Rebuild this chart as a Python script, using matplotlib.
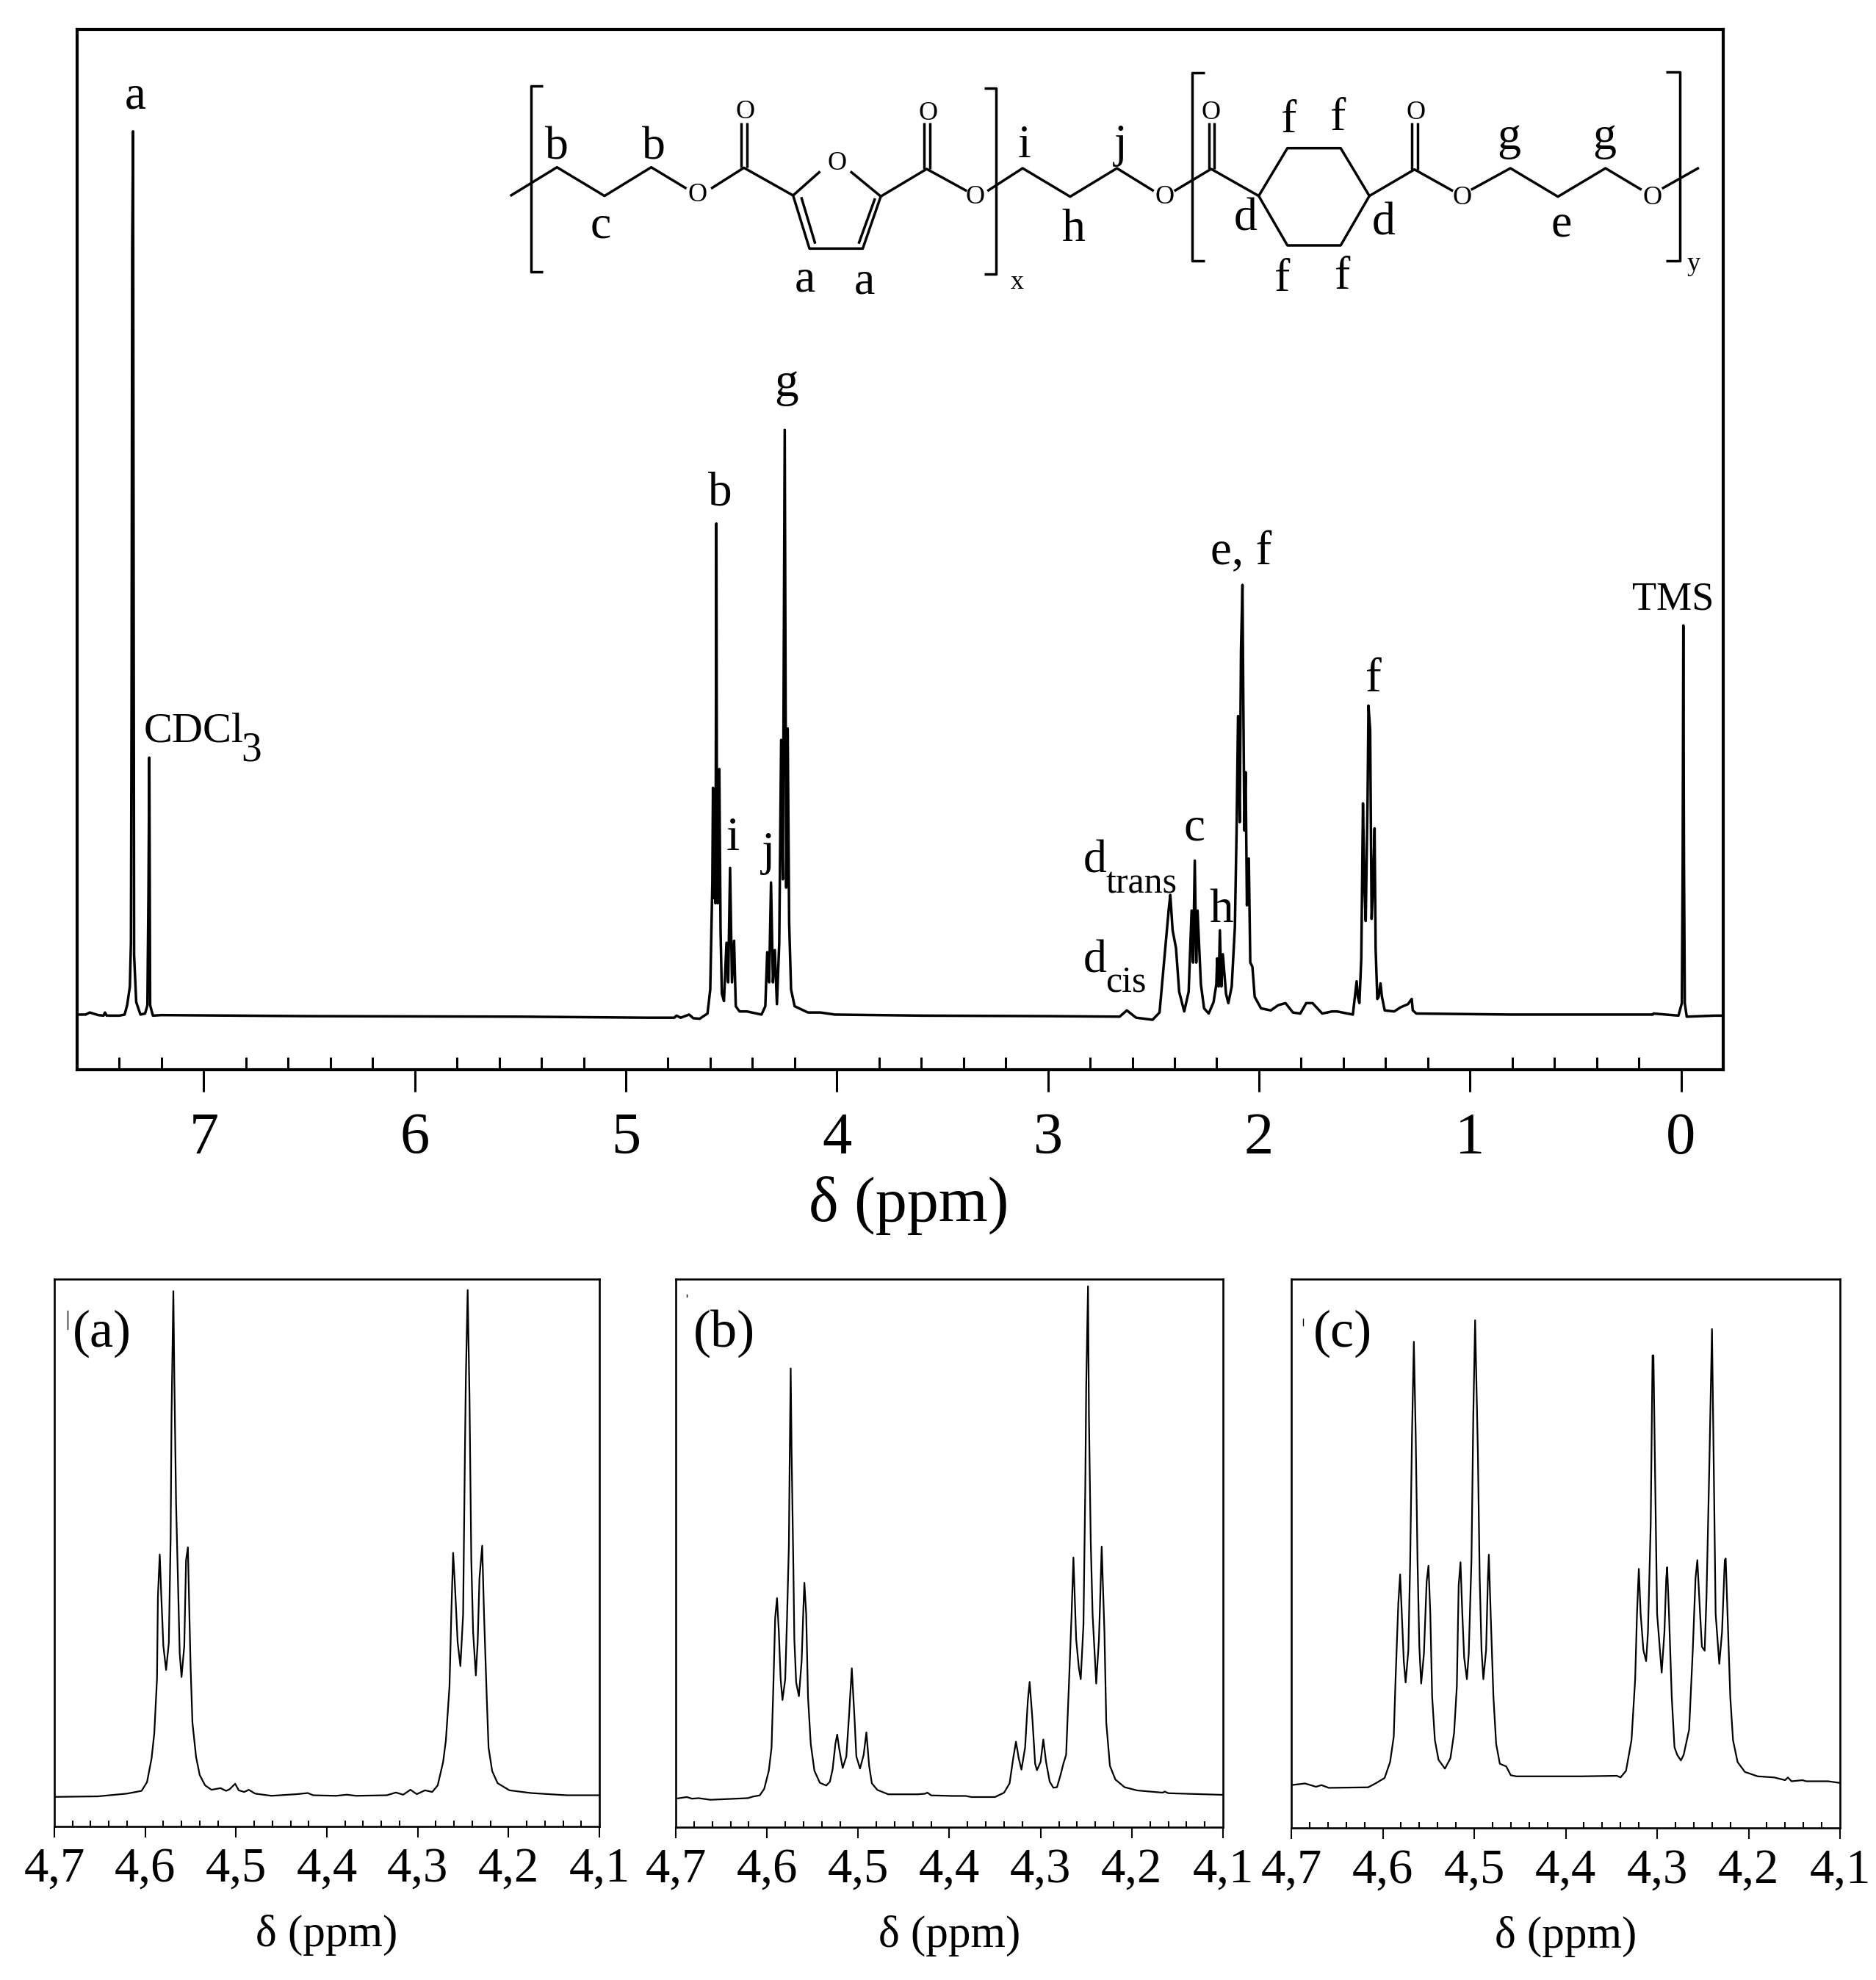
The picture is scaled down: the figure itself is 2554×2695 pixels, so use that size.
import numpy as np
import matplotlib
matplotlib.use("Agg")
from matplotlib import pyplot as plt
from matplotlib.ticker import FixedLocator, FixedFormatter

plt.rcParams['font.family'] = ['Liberation Serif', 'DejaVu Serif']

# main spectrum, intensity in percent of the axes height
main_ppm = [7.6, 7.56, 7.54, 7.5, 7.475, 7.468, 7.46, 7.40, 7.375, 7.363, 7.35, 7.345, 7.342, 7.339, 7.335, 7.332, 7.33, 7.32,
            7.30, 7.278, 7.267, 7.262, 7.258, 7.254, 7.241, 7.2, 6.5, 5.5, 4.9, 4.77, 4.76, 4.74, 4.70, 4.68, 4.65,
            4.613, 4.6, 4.594, 4.59, 4.587, 4.583, 4.579, 4.575, 4.571, 4.568, 4.564, 4.561, 4.557, 4.551, 4.545,
            4.535, 4.523, 4.515, 4.506, 4.497, 4.487, 4.479, 4.461, 4.426, 4.357, 4.339,
            4.33, 4.321, 4.312, 4.303, 4.294, 4.284, 4.273, 4.264, 4.256, 4.247, 4.24, 4.233, 4.226, 4.217, 4.2,
            4.137, 4.078, 4.009, 3.6, 3.0, 2.66, 2.626, 2.582, 2.504, 2.471, 2.447, 2.427, 2.42, 2.409, 2.393,
            2.378, 2.354, 2.333, 2.319, 2.312, 2.304, 2.297, 2.291, 2.275, 2.26, 2.238, 2.215, 2.202, 2.198,
            2.191, 2.185, 2.178, 2.171, 2.156, 2.145, 2.129, 2.114, 2.106, 2.099, 2.091, 2.085, 2.078, 2.074,
            2.069, 2.063, 2.057, 2.048, 2.041, 2.031, 2.02, 1.99, 1.944, 1.909, 1.874, 1.839, 1.804, 1.776,
            1.746, 1.7, 1.654, 1.63, 1.555, 1.537, 1.531, 1.524, 1.515, 1.507, 1.5, 1.494, 1.485, 1.481, 1.473,
            1.466, 1.459, 1.452, 1.447, 1.439, 1.433, 1.424, 1.417, 1.404, 1.359, 1.329, 1.294, 1.276, 1.271,
            1.254, 0.8, 0.394, 0.134, 0.13, 0.012, -0.004, -0.008, -0.011, -0.014, -0.018, -0.027, -0.159, -0.2]
main_int = [5.3, 5.3, 5.5, 5.25, 5.2, 5.5, 5.2, 5.2, 5.3, 6.2, 8.0, 12.2, 36, 79, 90.2, 43.7, 11, 6.5,
            5.3, 5.4, 6.2, 17, 30, 6.2, 5.2, 5.25, 5.15, 5.1, 5.0, 5.0, 5.2, 5.0, 5.3, 4.95, 4.9,
            5.4, 7.7, 13.7, 18, 27.1, 16.5, 20, 16, 52.5, 20, 16, 21, 28.9, 13.3, 7.3,
            6.6, 12.2, 8.4, 19.4, 8.4, 12.4, 6.1, 5.6, 5.6, 5.3, 6.1,
            11.3, 8.4, 18, 8.4, 11.5, 6.3, 12.2, 31.7, 18.3, 61.5, 17.5, 32.8, 14.1, 7.7, 6.1,
            5.5, 5.5, 5.3, 5.2, 5.15, 5.1, 5.7, 5.0, 4.8, 5.5, 11, 15.5, 16.8, 13.4, 11.7,
            7.5, 5.6, 7.5, 15.3, 10.3, 20.1, 10.3, 15.3, 8.2, 5.9, 5.4, 6.5, 8.2, 10.7,
            8, 13.4, 8, 11.1, 7.3, 6.4, 8, 13.7, 22.9, 34, 23.8, 40.3, 46.6, 35.4,
            23, 28.6, 15.8, 20.3, 10.3, 9.9, 7, 5.9, 5.7, 6.2, 6.4, 5.5, 5.4, 6.4,
            6.4, 5.4, 5.6, 5.6, 5.3, 8.5, 7.0, 6.4, 10.7, 25.6, 17.4, 14.3, 26.3, 35, 32.7,
            14.5, 17.7, 23.2, 11.6, 6.8, 7, 8.3, 7, 5.7, 5.6, 6, 6.3, 6.8, 5.7,
            5.4, 5.3, 5.3, 5.3, 5.4, 5.2, 6.4, 20, 42.7, 20, 6.4, 5.1, 5.2, 5.2]

# panel (a)
a_ppm = [4.700, 4.652, 4.62, 4.604, 4.598, 4.593, 4.590, 4.587, 4.586, 4.584, 4.582, 4.580, 4.577, 4.574, 4.572,
         4.571, 4.569, 4.568, 4.566, 4.564, 4.562, 4.560, 4.557, 4.555, 4.553, 4.552, 4.550, 4.548, 4.544, 4.540,
         4.534, 4.527, 4.517, 4.511, 4.507, 4.501, 4.497, 4.491, 4.486, 4.479, 4.461, 4.433, 4.421, 4.415, 4.390,
         4.378, 4.368, 4.334, 4.324, 4.316, 4.308, 4.301, 4.292, 4.284, 4.278, 4.272, 4.269, 4.265, 4.263, 4.261,
         4.259, 4.256, 4.253, 4.250, 4.248, 4.247, 4.245, 4.243, 4.241, 4.239, 4.236, 4.234, 4.232, 4.229, 4.227,
         4.224, 4.222, 4.218, 4.212, 4.199, 4.175, 4.136, 4.100]
a_int = [5.4, 5.5, 6.0, 6.5, 8.1, 12.4, 17, 27, 42, 49.7, 41, 33, 28.6, 33.5, 52.7,
         75, 97.8, 83, 59, 45.4, 31.6, 27.3, 32.9, 48.7, 51, 43.5, 29, 19, 12.7, 9.4,
         7.5, 6.7, 7.0, 6.5, 6.8, 7.8, 6.6, 6.3, 6.7, 6.0, 5.6, 5.9, 6.1, 5.7, 5.6,
         5.8, 5.6, 5.7, 6.2, 5.8, 6.7, 5.9, 6.6, 6.3, 7.5, 11.8, 15.7, 25.6, 38.8, 50,
         44, 33.6, 29.3, 38.8, 68.6, 81.8, 98, 78.5, 48.7, 35.5, 27.6, 33.6, 45.4, 51.3, 38.8,
         23.6, 14.4, 10.1, 7.9, 6.6, 6.1, 5.7, 5.7]

# panel (b)
b_ppm = [4.700, 4.688, 4.682, 4.675, 4.662, 4.621, 4.615, 4.608, 4.603, 4.598, 4.595, 4.593, 4.591, 4.589, 4.587,
         4.585, 4.583, 4.580, 4.578, 4.576, 4.575, 4.574, 4.573, 4.571, 4.570, 4.568, 4.565, 4.562, 4.560, 4.559,
         4.557, 4.555, 4.552, 4.548, 4.542, 4.535, 4.531, 4.528, 4.525, 4.523, 4.521, 4.517, 4.513, 4.510, 4.507,
         4.504, 4.502, 4.498, 4.494, 4.491, 4.488, 4.485, 4.479, 4.467, 4.435, 4.427, 4.424, 4.420, 4.396, 4.382,
         4.376, 4.350, 4.340, 4.334, 4.330, 4.327, 4.324, 4.321, 4.317, 4.314, 4.312, 4.309, 4.306, 4.304, 4.300,
         4.297, 4.294, 4.290, 4.286, 4.282, 4.278, 4.275, 4.272, 4.269, 4.266, 4.264, 4.261, 4.258, 4.256, 4.253,
         4.251, 4.250, 4.248, 4.247, 4.245, 4.243, 4.239, 4.236, 4.234, 4.233, 4.230, 4.228, 4.224, 4.218, 4.208,
         4.194, 4.166, 4.164, 4.160, 4.100]
b_int = [5.2, 5.5, 5.2, 5.3, 5.0, 5.3, 5.6, 5.8, 7.0, 10.3, 14.5, 25.7, 38.2, 41.8, 35.6,
         27, 23.2, 27, 38.2, 51.3, 68.4, 83.7, 68.4, 46.7, 34.3, 26.4, 23.9, 30.3, 40.2, 44.6,
         38.9, 23.7, 15.2, 10.3, 8.1, 7.6, 8.3, 10.6, 15.2, 16.9, 14.5, 10.8, 12.9, 20.4, 29,
         19.8, 12.9, 10.7, 13.2, 17.3, 11.2, 8, 6.8, 6.0, 6.0, 6.1, 6.3, 5.8, 5.7, 5.7,
         5.5, 5.5, 6.3, 8, 12.6, 15.6, 12.6, 10.5, 14.5, 23.1, 26.5, 19.8, 11.6, 10.4, 11.9,
         16, 11.9, 8.3, 7.2, 7.3, 9.6, 11.6, 13.2, 25.7, 38.9, 49.2, 34.3, 29, 27, 36.9,
         61.9, 80.3, 98.7, 75, 52, 38.9, 26.2, 34.3, 45.4, 51.2, 35.6, 19.1, 11.2, 8.7, 7.3,
         6.7, 6.3, 6.5, 6.2, 5.9]

# panel (c)
c_ppm = [4.700, 4.685, 4.673, 4.667, 4.659, 4.616, 4.608, 4.598, 4.592, 4.588, 4.586, 4.583, 4.581, 4.579, 4.577,
         4.575, 4.572, 4.570, 4.568, 4.566, 4.564, 4.562, 4.560, 4.558, 4.555, 4.552, 4.550, 4.548, 4.546, 4.543,
         4.539, 4.532, 4.526, 4.522, 4.519, 4.517, 4.515, 4.513, 4.511, 4.508, 4.506, 4.503, 4.501, 4.499, 4.496,
         4.494, 4.492, 4.490, 4.487, 4.485, 4.484, 4.482, 4.479, 4.476, 4.472, 4.465, 4.460, 4.454, 4.383, 4.344,
         4.340, 4.334, 4.328, 4.324, 4.322, 4.320, 4.318, 4.315, 4.312, 4.310, 4.307, 4.305, 4.304, 4.302, 4.300,
         4.295, 4.292, 4.290, 4.289, 4.287, 4.284, 4.281, 4.278, 4.274, 4.271, 4.265, 4.261, 4.258, 4.256, 4.253,
         4.251, 4.248, 4.246, 4.243, 4.240, 4.238, 4.236, 4.232, 4.229, 4.226, 4.225, 4.223, 4.220, 4.217, 4.212,
         4.204, 4.190, 4.172, 4.160, 4.157, 4.153, 4.141, 4.137, 4.113, 4.100]
c_int = [7.8, 8.1, 7.5, 7.8, 7.3, 7.4, 8.1, 9.1, 12, 16.6, 27.1, 40.9, 46.2, 38.3, 30.4,
         26.5, 32.4, 48.8, 71.8, 88.6, 71.8, 48.8, 33, 26.3, 31.7, 44.9, 47.8, 39, 23.9, 16,
         12.4, 10.8, 12.7, 17.3, 25.8, 44.2, 48.4, 39, 31.1, 27.1, 31.7, 48.8, 75.1, 92.5, 68.5,
         45.5, 32.4, 27.1, 32.4, 45.5, 49.8, 39, 23.9, 15.3, 11.7, 11.2, 9.6, 9.4, 9.4, 9.5,
         9.2, 10.4, 16, 27.1, 39, 47.2, 39, 32.4, 30.4, 35.7, 55.4, 86.1, 86.1, 62, 39,
         28.3, 35.7, 45.5, 47.5, 39, 23.9, 14.7, 13.3, 12.3, 13.3, 17.9, 32.4, 45.5, 48.8, 39,
         33, 32.3, 42.2, 65.2, 90.9, 65.2, 39, 29.9, 35.7, 48.8, 49.1, 39, 23.9, 16, 12,
         10.2, 9.4, 9.2, 8.7, 9.2, 8.5, 8.7, 8.5, 8.5, 8.2]

main_ticks = [7, 6, 5, 4, 3, 2, 1, 0]
panel_ticks = [4.7, 4.6, 4.5, 4.4, 4.3, 4.2, 4.1]
panel_labels = ['4,7', '4,6', '4,5', '4,4', '4,3', '4,2', '4,1']

mol_lines = [
    [(40, 620), (97, 503), (155, 620), (212, 503), (255, 590)],
    [(285, 590), (325, 505), (385, 618), (418, 520)],
    [(455, 520), (492, 622), (548, 510), (597, 600)],
    [(385, 618), (405, 835), (470, 835), (492, 622)],
    [(395, 625), (412, 815)], [(485, 630), (465, 815)],
    [(622, 600), (665, 507), (723, 623), (780, 507), (825, 600)],
    [(850, 600), (895, 510), (953, 620), (988, 425), (1053, 425), (1088, 620), (1053, 822), (988, 822), (953, 620)],
    [(1088, 620), (1143, 512), (1190, 600)],
    [(1212, 595), (1260, 507), (1318, 623), (1376, 507), (1420, 595)],
    [(1445, 590), (1490, 505)],
    [(322, 505), (322, 320)], [(329, 505), (329, 320)],
    [(545, 510), (545, 320)], [(552, 510), (552, 320)],
    [(892, 510), (892, 320)], [(899, 510), (899, 320)],
    [(1140, 512), (1140, 320)], [(1147, 512), (1147, 320)],
    [(80, 172), (65, 172), (65, 930), (80, 930)],
    [(618, 180), (633, 180), (633, 940), (618, 940)],
    [(887, 118), (872, 118), (872, 885), (887, 885)],
    [(1450, 115), (1467, 115), (1467, 885), (1450, 885)],
]
mol_oxygens = [(327, 278), (550, 283), (895, 282), (1145, 282), (439, 488), (268, 618), (607, 625), (838, 625),
               (1201, 627), (1433, 627)]
mol_letters = [('b', 97, 470), ('b', 215, 470), ('c', 150, 790), ('a', 400, 1010), ('a', 472, 1018), ('i', 667, 462),
               ('j', 785, 458), ('h', 727, 803), ('d', 937, 760), ('d', 1105, 778), ('f', 990, 360), ('f', 1050, 352),
               ('f', 982, 1008), ('f', 1055, 1000), ('e', 1322, 785), ('g', 1258, 430), ('g', 1375, 430)]
mol_subs = [('x', 658, 1000), ('y', 1483, 925)]

# peak labels in figure pixels: text, x centre, baseline, size
peak_labels = [('a', 184, 147, 47), ('b', 980, 687, 47), ('i', 998, 1157, 47), ('j', 1046, 1177, 47),
               ('g', 1071, 539, 47), ('e, f', 1690, 768, 47), ('c', 1626, 1144, 47), ('h', 1663, 1255, 47),
               ('f', 1870, 941, 47), ('TMS', 2278, 830, 39)]

# small specks left of the panel tags: x, y start, y end
specks = [(92, 1784, 1809), (935, 1762, 1765), (1774, 1795, 1804)]


def axes_px(fig, left, top, right, bottom):
    W, H = fig.get_size_inches() * fig.dpi
    return fig.add_axes([left / W, 1 - bottom / H, (right - left) / W, (bottom - top) / H])


def draw_panel(fig, box, ppm, inten, tag, tag_x):
    ax = axes_px(fig, *box)
    ax.plot(ppm, inten, color='k', lw=1.6)
    ax.set_xlim(4.7, 4.1)
    ax.set_ylim(0, 100)
    ax.set_yticks([])
    ax.xaxis.set_major_locator(FixedLocator(panel_ticks))
    ax.xaxis.set_major_formatter(FixedFormatter(panel_labels))
    ax.set_xticks(np.arange(4.1, 4.7, 0.02), minor=True)
    ax.tick_params(axis='x', which='major', direction='out', length=11, width=1.5, labelsize=48, pad=9)
    ax.tick_params(axis='x', which='minor', direction='in', length=6, width=1.5)
    for s in ax.spines.values():
        s.set_linewidth(1.9)
    ax.set_xlabel('δ (ppm)', fontsize=44, va='baseline')
    ax.xaxis.set_label_coords(0.5, -0.218)
    overlay.text(tag_x, 1833, tag, fontsize=52, ha='left', va='baseline')
    return ax


fig = plt.figure(figsize=(25.54, 26.95), dpi=100)
overlay = fig.add_axes([0, 0, 1, 1], zorder=10)
overlay.set_xlim(0, 2554)
overlay.set_ylim(2695, 0)
overlay.axis('off')

ax = axes_px(fig, 105, 40, 2346, 1456)
ax.plot(main_ppm, main_int, color='k', lw=2.5)
ax.set_xlim(7.6, -0.2)
ax.set_ylim(0, 100)
ax.set_yticks([])
ax.set_xticks(main_ticks)
ax.set_xticklabels([str(t) for t in main_ticks])
ax.set_xticks(np.arange(-0.2, 7.6, 0.2), minor=True)
ax.tick_params(axis='x', which='major', direction='out', length=21.6, width=2.2, labelsize=58, pad=20)
ax.tick_params(axis='x', which='minor', direction='in', length=12, width=2.2)
for s in ax.spines.values():
    s.set_linewidth(3.0)
ax.set_xlabel('δ (ppm)', fontsize=62, va='baseline')
ax.xaxis.set_label_coords(0.505, -0.1455)

draw_panel(fig, (74, 1741, 816, 2486), a_ppm, a_int, '(a)', 99)
draw_panel(fig, (920, 1741, 1665, 2487), b_ppm, b_int, '(b)', 944)
draw_panel(fig, (1758, 1741, 2505, 2488), c_ppm, c_int, '(c)', 1788)


def mx(X):
    return 650 + X / 0.896


def my(Y):
    return 60 + Y / 3


for seg in mol_lines:
    overlay.plot([mx(p[0]) for p in seg], [my(p[1]) for p in seg], color='k', lw=2.5, solid_capstyle='butt')
for X, Y in mol_oxygens:
    overlay.text(mx(X), my(Y), 'O', fontsize=26, ha='center', va='center')
for t, X, Y in mol_letters:
    overlay.text(mx(X), my(Y), t, fontsize=46, ha='center', va='baseline')
for t, X, Y in mol_subs:
    overlay.text(mx(X), my(Y), t, fontsize=26, ha='center', va='baseline')

for t, x, y, size in peak_labels:
    overlay.text(x, y, t, fontsize=size, ha='center', va='baseline')

for x, y0, y1 in specks:
    overlay.plot([x, x], [y0, y1], color='k', lw=1.0)

# labels with subscripts
overlay.text(196, 1010, 'CDCl', fontsize=42, ha='left', va='baseline')
overlay.text(328, 1036, '3', fontsize=40, ha='left', va='baseline')
overlay.text(1475, 1188, 'd', fontsize=46, ha='left', va='baseline')
overlay.text(1505, 1215, 'trans', fontsize=36, ha='left', va='baseline')
overlay.text(1475, 1323, 'd', fontsize=46, ha='left', va='baseline')
overlay.text(1505, 1349, 'cis', fontsize=36, ha='left', va='baseline')

fig.savefig('out.png', dpi=100, facecolor='white')
